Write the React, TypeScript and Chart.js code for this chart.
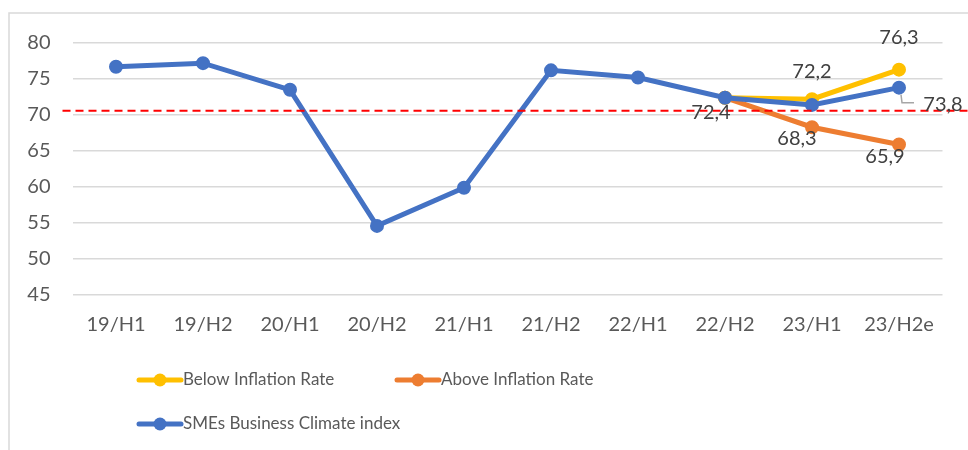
import React, { useEffect, useRef } from 'react';
import { Chart, registerables } from 'chart.js';

Chart.register(...registerables);

const categories = ['19/H1', '19/H2', '20/H1', '20/H2', '21/H1', '21/H2', '22/H1', '22/H2', '23/H1', '23/H2e'];
const smeIndex = [76.7, 77.2, 73.5, 54.6, 59.9, 76.2, 75.2, 72.4, 71.4, 73.8];
const belowInflation = [null, null, null, null, null, null, null, 72.4, 72.2, 76.3];
const aboveInflation = [null, null, null, null, null, null, null, 72.4, 68.3, 65.9];
const yMin = 45;
const yMax = 80;
const yStep = 5;
const inflationThreshold = 70.6;

const seriesNames = ['SMEs Business Climate index', 'Below Inflation Rate', 'Above Inflation Rate'];
const BLUE = '#4472C4';
const YELLOW = '#FFC000';
const ORANGE = '#ED7D31';
const FONT = 'Lato, "Open Sans", sans-serif';

// labelled points: dataset index, point index, text offset (dx, dy), leader line flag
const labelSpecs = [
  { ds: 0, i: 7, dx: -14, dy: 15, leader: false },
  { ds: 0, i: 9, dx: 44, dy: 17, leader: true },
  { ds: 1, i: 8, dx: 0, dy: -28, leader: false },
  { ds: 1, i: 9, dx: 0, dy: -32, leader: false },
  { ds: 2, i: 8, dx: -15, dy: 11, leader: false },
  { ds: 2, i: 9, dx: -14, dy: 12, leader: false },
];

const fmt = (v: number) => v.toFixed(1).replace('.', ',');

const framePlugin = {
  id: 'frame',
  beforeDraw(chart: any) {
    const { ctx, width, height } = chart;
    ctx.save();
    ctx.fillStyle = '#ffffff';
    ctx.fillRect(0, 0, width, height);
    ctx.strokeStyle = '#d9d9d9';
    ctx.lineWidth = 1.5;
    ctx.beginPath();
    ctx.moveTo(9, height);
    ctx.lineTo(9, 13);
    ctx.lineTo(width, 13);
    ctx.stroke();
    ctx.restore();
  },
};

const thresholdPlugin = {
  id: 'threshold',
  afterDatasetsDraw(chart: any) {
    const { ctx, chartArea, width } = chart;
    const y = chart.scales.y.getPixelForValue(inflationThreshold);
    ctx.save();
    ctx.strokeStyle = '#FF0000';
    ctx.lineWidth = 2;
    ctx.setLineDash([8, 5]);
    ctx.beginPath();
    ctx.moveTo(chartArea.left - 10, y);
    ctx.lineTo(width, y);
    ctx.stroke();
    ctx.restore();
  },
};

const labelPlugin = {
  id: 'pointLabels',
  afterDatasetsDraw(chart: any) {
    const { ctx } = chart;
    ctx.save();
    ctx.font = `20px ${FONT}`;
    ctx.fillStyle = '#404040';
    ctx.textAlign = 'center';
    ctx.textBaseline = 'middle';
    labelSpecs.forEach((s) => {
      const meta = chart.getDatasetMeta(s.ds);
      const pt = meta.data[s.i];
      const v = chart.data.datasets[s.ds].data[s.i] as number;
      const tx = pt.x + s.dx;
      const ty = pt.y + s.dy;
      if (s.leader) {
        ctx.save();
        ctx.strokeStyle = '#a6a6a6';
        ctx.lineWidth = 1.5;
        ctx.beginPath();
        ctx.moveTo(pt.x + 2, pt.y + 7);
        ctx.lineTo(pt.x + 3, ty - 2);
        ctx.lineTo(pt.x + 15, ty - 2);
        ctx.stroke();
        ctx.restore();
      }
      ctx.fillText(fmt(v), tx, ty);
    });
    ctx.restore();
  },
};

const legendPlugin = {
  id: 'customLegend',
  afterDraw(chart: any) {
    const { ctx } = chart;
    const items = [
      { name: seriesNames[1], color: YELLOW, x: 139, y: 380 },
      { name: seriesNames[2], color: ORANGE, x: 397, y: 380 },
      { name: seriesNames[0], color: BLUE, x: 139, y: 424 },
    ];
    ctx.save();
    ctx.font = `17px ${FONT}`;
    ctx.textAlign = 'left';
    ctx.textBaseline = 'middle';
    items.forEach((it) => {
      ctx.strokeStyle = it.color;
      ctx.lineWidth = 5;
      ctx.lineCap = 'round';
      ctx.beginPath();
      ctx.moveTo(it.x, it.y);
      ctx.lineTo(it.x + 42, it.y);
      ctx.stroke();
      ctx.fillStyle = it.color;
      ctx.beginPath();
      ctx.arc(it.x + 21, it.y, 6.5, 0, Math.PI * 2);
      ctx.fill();
      ctx.fillStyle = '#595959';
      ctx.fillText(it.name, it.x + 44, it.y);
    });
    ctx.restore();
  },
};

export default function App() {
  const ref = useRef<HTMLCanvasElement | null>(null);
  useEffect(() => {
    if (!ref.current) return;
    const mk = (label: string, data: (number | null)[], color: string) => ({
      label,
      data,
      borderColor: color,
      backgroundColor: color,
      pointBackgroundColor: color,
      pointBorderColor: color,
      borderWidth: 5,
      pointRadius: 6,
      pointBorderWidth: 2,
      tension: 0,
      spanGaps: false,
    });
    const chart = new Chart(ref.current, {
      type: 'line',
      data: {
        labels: categories,
        datasets: [
          mk(seriesNames[0], smeIndex, BLUE),
          mk(seriesNames[1], belowInflation, YELLOW),
          mk(seriesNames[2], aboveInflation, ORANGE),
        ],
      },
      options: {
        animation: false,
        responsive: false,
        maintainAspectRatio: false,
        layout: { padding: { left: 0, right: 25.5, top: 43, bottom: 115 } },
        plugins: { legend: { display: false }, tooltip: { enabled: false } },
        scales: {
          x: {
            offset: true,
            grid: { display: false, drawTicks: false },
            border: { display: false },
            ticks: { color: '#595959', font: { family: FONT, size: 20 }, padding: 18, maxRotation: 0, autoSkip: false },
            afterFit: (s: any) => { s.height = 40; },
          },
          y: {
            min: yMin,
            max: yMax,
            grid: { color: '#d9d9d9', lineWidth: 1.5, drawTicks: false },
            border: { display: false },
            ticks: { stepSize: yStep, color: '#595959', font: { family: FONT, size: 20 }, padding: 22 },
            afterFit: (s: any) => { s.width = 72.5; },
          },
        },
      },
      plugins: [framePlugin, thresholdPlugin, labelPlugin, legendPlugin],
    });
    return () => chart.destroy();
  }, []);
  return (
    <div style={{ position: 'fixed', left: 0, top: 0, width: 968, height: 450 }}>
      <canvas ref={ref} width={968} height={450} style={{ width: 968, height: 450, display: 'block' }} />
    </div>
  );
}
